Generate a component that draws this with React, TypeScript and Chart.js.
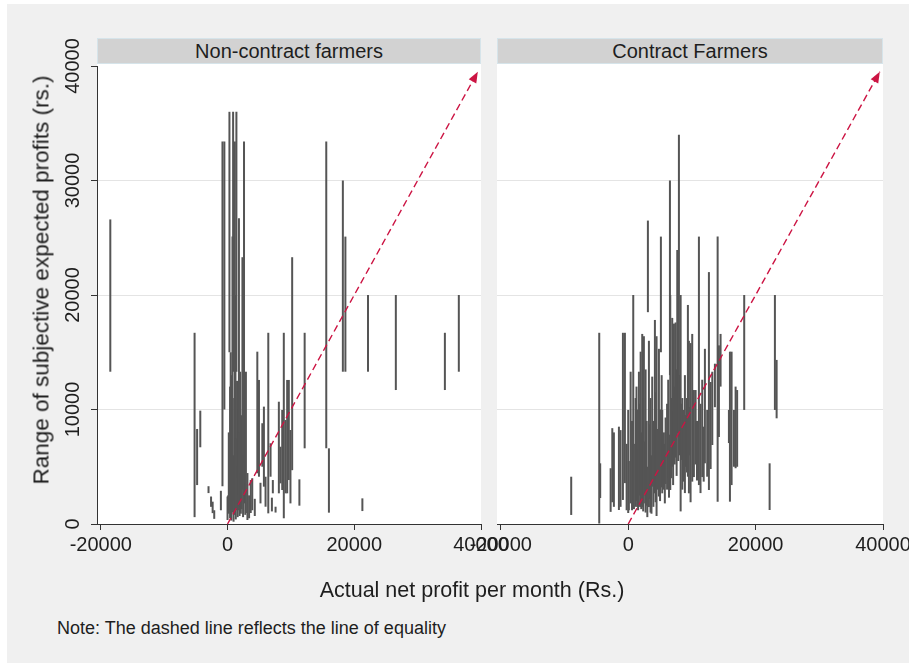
import React, { useEffect, useRef } from "react";
import { Chart, registerables } from "chart.js";

Chart.register(...registerables);

// Non-contract farmers: actual net profit per month (x) and the low / high end
// of the subjective expected-profit range (vertical spike).
const nonContractProfit = [
  -18500, -5200, -4800, -4300, -3000, -2600, -2350, -2100, -1050, -800, -500, 0, 100, 200, 300, 400,
  500, 600, 700, 780, 880, 950, 1050, 1150, 1250, 1300, 1400, 1500, 1600, 1700, 1800, 1900, 2000,
  2100, 2200, 2350, 2450, 2600, 2700, 2800, 2900, 3140, 3400, 3660, 3900, 4300, 4700, 4960, 5200,
  5490, 5740, 6000, 6430, 6790, 7000, 7150, 7580, 8100, 8360, 8630, 8880, 9150, 9410, 9670, 9930,
  10200, 11340, 12170, 15580, 16000, 18200, 18600, 21280, 22170, 26560, 34300, 36500,
];
const nonContractLow = [
  13300, 600, 3400, 6700, 2700, 1500, 950, 450, 1200, 3300, 10000, 350, 1200, 900, 15000, 500,
  2000, 300, 1500, 1000, 13300, 200, 800, 2000, 4000, 400, 13300, 1200, 600, 2500, 1200, 700, 1500,
  900, 1300, 3000, 600, 5300, 1800, 800, 960, 350, 500, 960, 1200, 700, 4430, 4130, 1800,
  5000, 3260, 1510, 930, 4130, 1100, 2680, 1000, 2680, 3550, 2970, 500, 2680, 2680, 3840, 1800,
  4700, 1600, 6610, 6610, 990, 13300, 13300, 1130, 13300, 11700, 11700, 13300,
];
const nonContractHigh = [
  26600, 16700, 8300, 9900, 3300, 2400, 1950, 1200, 2900, 33400, 33400, 2400, 2500, 8000, 36000, 12000,
  15000, 9000, 13000, 25100, 36000, 6000, 11000, 33400, 20000, 7500, 36000, 12500, 5000, 10000, 26700, 8000, 13300,
  4500, 9500, 23300, 6000, 33400, 11000, 3500, 13300, 4450, 2500, 3840, 4000, 2200, 15050, 12580, 3600,
  8800, 10250, 4130, 16700, 7050, 2300, 3840, 1510, 10680, 6750, 9960, 16700, 9080, 12580, 12580, 8210,
  23300, 3900, 16700, 33400, 6610, 30000, 25100, 2240, 20000, 20000, 16700, 20000,
];

// Contract farmers
const contractProfit = [
  -8950, -4550, -4400, -2760, -2500, -2250, -1460, -1200, -830, -520, -250, 0, 100, 380, 600, 790,
  900, 1160, 1300, 1400, 1550, 1680, 1800, 1950, 2050, 2200, 2350, 2460, 2600, 2730, 2900, 3000,
  3090, 3250, 3350, 3500, 3650, 3770, 3950, 4190, 4300, 4450, 4650, 4820, 5000, 5130, 5250, 5340,
  5600, 5750, 5870, 6100, 6280, 6400, 6550, 6600, 6750, 6910, 7050, 7180, 7300, 7440, 7600, 7700,
  7850, 7960, 8100, 8230, 8380, 8490, 8750, 8900, 9020, 9200, 9370, 9530, 9650, 9790, 10050, 10310,
  10580, 10800, 11100, 11350, 11620, 11850, 12040, 12400, 12670, 12940, 13200, 13610, 14040, 14240,
  14500, 15810, 15970, 16230, 16600, 16860, 17100, 18210, 22200, 23030, 23300,
];
const contractLow = [
  790, 0, 2270, 1060, 1900, 1500, 1220, 1500, 2100, 3570, 1200, 960, 1200, 1800, 1200, 3840,
  1300, 1500, 2000, 1500, 1200, 1500, 2500, 1480, 1300, 1480, 1100, 1800, 2500, 1000, 1600, 600,
  18500, 1480, 2200, 1000, 900, 3260, 1500, 2680, 1900, 700, 3000, 2400, 2000, 15000, 3200, 2680,
  3000, 1800, 3500, 3000, 4100, 2300, 13000, 2970, 4000, 5000, 3400, 6000, 5200, 5800, 4200, 7920,
  5500, 6200, 6000, 1100, 5600, 3000, 3700, 2700, 5000, 4500, 4130, 2680, 6000, 1900, 3700, 4100,
  5200, 3800, 3400, 2700, 4100, 3700, 5300, 4130, 2970, 4800, 6900, 10200, 1950, 7600,
  12000, 7070, 1950, 3400, 5000, 4870, 5000, 9960, 1220, 9960, 9230,
];
const contractHigh = [
  4130, 16700, 5300, 4870, 8370, 8000, 8500, 8200, 16700, 16700, 7000, 9960, 5500, 13300, 9000, 20000,
  7000, 11000, 12000, 10000, 6500, 13300, 10500, 15050, 8000, 16600, 11000, 16400, 7200, 13500, 9000, 5000,
  26500, 16000, 8700, 11000, 6000, 12870, 9000, 17820, 11500, 16400, 8300, 15300, 10000, 25100, 13000, 9960,
  8000, 7000, 9300, 10500, 12600, 7800, 30000, 20000, 11000, 18000, 9800, 17500, 12000, 17600, 13500, 23930,
  15000, 34000, 13000, 20000, 10500, 11000, 9960, 13000, 9500, 11000, 19130, 16000, 10200, 15800, 16600, 11700,
  11700, 9000, 25100, 10500, 12600, 8500, 15300, 9960, 22000, 12400, 13300, 14000, 25100, 15600,
  16600, 9960, 15050, 15050, 9960, 12000, 11700, 20000, 5300, 20000, 14330,
];

// Line of equality runs from the origin up to this value on both axes
const equalityStart = 0;
const equalityEnd = 39500;

const xTickValues = [-20000, 0, 20000, 40000];
const yTickValues = [0, 10000, 20000, 30000, 40000];
const panelTitles = ["Non-contract farmers", "Contract Farmers"];

const X_MIN = -20600;
const X_MAX = 40000;
const Y_MIN = 0;
const Y_MAX = 40000;

const FONT = '"Liberation Sans", Arial, Helvetica, sans-serif';
const TEXT = "#1e1e1e";
const AXIS = "#333333";
const GRID = "#e4e4e4";
const SPIKE = "#555555";
const RED = "#cc1443";
const TICK_SIZE = 20;

// Filled arrowhead whose tip sits on the last point of the equality line
const arrowHead = {
  id: "arrowHead",
  afterDatasetsDraw(chart: any) {
    const meta = chart.getDatasetMeta(1);
    const pts = meta.data;
    if (!pts || pts.length < 2) return;
    const a = pts[pts.length - 2];
    const b = pts[pts.length - 1];
    const ang = Math.atan2(b.y - a.y, b.x - a.x);
    const len = 11;
    const half = 4.3;
    const c = Math.cos(ang);
    const s = Math.sin(ang);
    const ctx = chart.ctx;
    ctx.save();
    ctx.fillStyle = RED;
    ctx.beginPath();
    ctx.moveTo(b.x, b.y);
    ctx.lineTo(b.x - len * c + half * s, b.y - len * s - half * c);
    ctx.lineTo(b.x - len * c - half * s, b.y - len * s + half * c);
    ctx.closePath();
    ctx.fill();
    ctx.restore();
  },
};

function makeChart(
  canvas: HTMLCanvasElement,
  xs: number[],
  lo: number[],
  hi: number[],
  showY: boolean,
  padding: { left: number; right: number; top: number; bottom: number },
  yPad: number
) {
  const spikes = xs.map((x, i) => ({ x, y: [lo[i], hi[i]] }));
  const equality = [
    { x: equalityStart, y: equalityStart },
    { x: equalityEnd, y: equalityEnd },
  ];
  return new Chart(canvas, {
    type: "bar",
    data: {
      datasets: [
        {
          type: "bar",
          data: spikes as any,
          backgroundColor: SPIKE,
          borderWidth: 0,
          barThickness: 2,
          inflateAmount: 0,
          order: 2,
        } as any,
        {
          type: "line",
          data: equality as any,
          borderColor: RED,
          borderWidth: 1.4,
          borderDash: [7, 4],
          pointRadius: 0,
          fill: false,
          tension: 0,
          order: 1,
        } as any,
      ],
    },
    options: {
      responsive: false,
      animation: false,
      events: [],
      layout: { padding },
      plugins: {
        legend: { display: false },
        tooltip: { enabled: false },
        title: { display: false },
      },
      scales: {
        x: {
          type: "linear",
          min: X_MIN,
          max: X_MAX,
          offset: false,
          afterBuildTicks: (s: any) => {
            s.ticks = xTickValues.map((v) => ({ value: v }));
          },
          afterFit: (s: any) => {
            s.height = 40;
          },
          ticks: {
            autoSkip: false,
            minRotation: 0,
            maxRotation: 0,
            padding: 3,
            color: TEXT,
            font: { family: FONT, size: TICK_SIZE },
            callback: (v: any) => String(v),
          },
          grid: {
            offset: false,
            drawOnChartArea: false,
            drawTicks: true,
            tickLength: 6,
            tickColor: AXIS,
            tickWidth: 1,
          },
          border: { display: true, color: AXIS, width: 1 },
        },
        y: {
          type: "linear",
          min: Y_MIN,
          max: Y_MAX,
          afterBuildTicks: (s: any) => {
            s.ticks = yTickValues.map((v) => ({ value: v }));
          },
          afterFit: (s: any) => {
            s.width = showY ? 80 : 0;
          },
          ticks: {
            display: showY,
            autoSkip: false,
            minRotation: 90,
            maxRotation: 90,
            crossAlign: "center",
            padding: yPad,
            color: TEXT,
            font: { family: FONT, size: TICK_SIZE },
            callback: (v: any) => String(v),
          },
          grid: {
            offset: false,
            color: (ctx: any) =>
              ctx.tick && (ctx.tick.value === Y_MIN || ctx.tick.value === Y_MAX)
                ? "rgba(0,0,0,0)"
                : GRID,
            lineWidth: 1,
            drawTicks: showY,
            tickLength: 6,
            tickColor: AXIS,
            tickWidth: 1,
          },
          border: { display: showY, color: AXIS, width: 1 },
        },
      },
    } as any,
    plugins: [arrowHead],
  });
}

// Page geometry of the two plot regions
const PLOT_TOP = 66;
const PLOT_BOTTOM = 524;
const LEFT_PANEL = { left: 97, right: 481 };
const RIGHT_PANEL = { left: 497, right: 883 };
const CANVAS_H = 580;
const LEFT_CANVAS = { x: 0, w: 540 };
const RIGHT_CANVAS = { x: 460, w: 480 };

export default function App() {
  const leftRef = useRef<HTMLCanvasElement>(null);
  const rightRef = useRef<HTMLCanvasElement>(null);

  useEffect(() => {
    const m = document.createElement("canvas").getContext("2d")!;
    m.font = `${TICK_SIZE}px ${FONT}`;
    const widest = m.measureText("40000").width;
    // rotated y labels centred about 24px left of the axis line
    const yPad = LEFT_PANEL.left - 6 - 73 - widest / 2;

    const bottomPad = CANVAS_H - PLOT_BOTTOM - 40;
    const left = makeChart(
      leftRef.current!,
      nonContractProfit,
      nonContractLow,
      nonContractHigh,
      true,
      {
        left: LEFT_PANEL.left - LEFT_CANVAS.x - 80,
        right: LEFT_CANVAS.x + LEFT_CANVAS.w - LEFT_PANEL.right,
        top: PLOT_TOP,
        bottom: bottomPad,
      },
      yPad
    );
    const right = makeChart(
      rightRef.current!,
      contractProfit,
      contractLow,
      contractHigh,
      false,
      {
        left: RIGHT_PANEL.left - RIGHT_CANVAS.x,
        right: RIGHT_CANVAS.x + RIGHT_CANVAS.w - RIGHT_PANEL.right,
        top: PLOT_TOP,
        bottom: bottomPad,
      },
      0
    );
    return () => {
      left.destroy();
      right.destroy();
    };
  }, []);

  const stripStyle = (p: { left: number; right: number }): React.CSSProperties => ({
    position: "absolute",
    left: p.left,
    top: 38,
    width: p.right - p.left,
    height: 26,
    boxSizing: "border-box",
    background: "#d2d2d2",
    border: "1px solid #d6e4ea",
    display: "flex",
    alignItems: "center",
    justifyContent: "center",
    font: `20px ${FONT}`,
    color: TEXT,
    whiteSpace: "nowrap",
  });

  const plotBg = (p: { left: number; right: number }): React.CSSProperties => ({
    position: "absolute",
    left: p.left,
    top: 64,
    width: p.right - p.left,
    height: PLOT_BOTTOM - 64,
    background: "#ffffff",
  });

  return (
    <div
      style={{
        position: "absolute",
        left: 0,
        top: 0,
        width: 909,
        height: 663,
        overflow: "hidden",
        background: "#ffffff",
        fontFamily: FONT,
      }}
    >
      <div
        style={{
          position: "absolute",
          left: 7,
          top: 4,
          right: 0,
          bottom: 0,
          background: "#f0f0f0",
        }}
      />
      <div style={plotBg(LEFT_PANEL)} />
      <div style={plotBg(RIGHT_PANEL)} />
      <div style={stripStyle(LEFT_PANEL)}>{panelTitles[0]}</div>
      <div style={stripStyle(RIGHT_PANEL)}>{panelTitles[1]}</div>
      <canvas
        ref={leftRef}
        width={LEFT_CANVAS.w}
        height={CANVAS_H}
        style={{
          position: "absolute",
          left: LEFT_CANVAS.x,
          top: 0,
          width: LEFT_CANVAS.w,
          height: CANVAS_H,
        }}
      />
      <canvas
        ref={rightRef}
        width={RIGHT_CANVAS.w}
        height={CANVAS_H}
        style={{
          position: "absolute",
          left: RIGHT_CANVAS.x,
          top: 0,
          width: RIGHT_CANVAS.w,
          height: CANVAS_H,
        }}
      />
      <div
        style={{
          position: "absolute",
          left: 41,
          top: 280,
          transform: "translate(-50%, -50%) rotate(-90deg)",
          whiteSpace: "nowrap",
          font: `22.5px ${FONT}`,
          lineHeight: "23px",
          color: TEXT,
        }}
      >
        Range of subjective expected profits (rs.)
      </div>
      <div
        style={{
          position: "absolute",
          left: 472,
          top: 590,
          transform: "translate(-50%, -50%)",
          whiteSpace: "nowrap",
          font: `21.5px ${FONT}`,
          lineHeight: "22px",
          color: TEXT,
        }}
      >
        Actual net profit per month (Rs.)
      </div>
      <div
        style={{
          position: "absolute",
          left: 57,
          top: 628,
          transform: "translateY(-50%)",
          whiteSpace: "nowrap",
          font: `18px ${FONT}`,
          lineHeight: "18px",
          color: TEXT,
        }}
      >
        Note: The dashed line reflects the line of equality
      </div>
    </div>
  );
}
